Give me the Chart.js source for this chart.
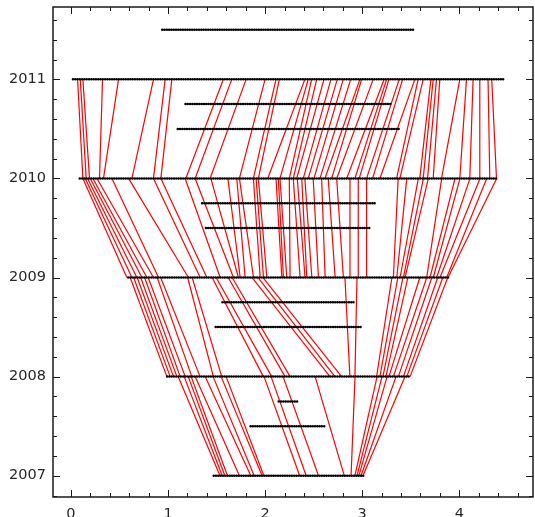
<!DOCTYPE html>
<html><head><meta charset="utf-8">
<script src="https://cdn.jsdelivr.net/npm/chart.js@4/dist/chart.umd.min.js"></script>
<style>html,body{margin:0;padding:0;background:#fff;overflow:hidden}#wrap{width:535px;height:517px}</style>
</head><body><div id="wrap"><canvas id="c" width="535" height="517"></canvas></div>
<script>
// ---- tick labels ----
const xTickLabels = [0, 1, 2, 3, 4];
const yTickLabels = [2007, 2008, 2009, 2010, 2011];

// ---- dotted rows (y level, first x, last x) ----
const rowYears  = [2011.5, 2011, 2010.75, 2010.5, 2010, 2009.75, 2009.5, 2009, 2008.75, 2008.5, 2008, 2007.75, 2007.5, 2007];
const rowStarts = [0.94, 0.02, 1.18, 1.10, 0.09, 1.35, 1.39, 0.59, 1.56, 1.49, 0.99, 2.14, 1.85, 1.47];
const rowEnds   = [3.54, 4.46, 3.30, 3.38, 4.40, 3.14, 3.09, 3.89, 2.92, 2.99, 3.49, 2.35, 2.63, 3.02];

// ---- links 2011 -> 2010 ----
const links2011From = [0.068,0.096,0.123,0.325,0.490,0.850,0.970,1.039,1.570,1.656,1.804,1.999,2.112,2.146,2.409,2.444,2.479,2.531,2.606,2.678,2.743,2.805,2.881,2.976,2.994,3.113,3.226,3.251,3.275,3.381,3.416,3.542,3.576,3.628,3.707,3.731,3.765,3.799,4.005,4.074,4.142,4.211,4.296,4.334];
const links2011To   = [0.123,0.157,0.191,0.294,0.335,0.628,0.850,0.926,1.183,1.279,1.433,1.735,1.879,1.930,2.027,2.153,2.249,2.290,2.325,2.393,2.444,2.503,2.565,2.616,2.685,2.737,2.840,2.925,2.969,3.045,3.107,3.182,3.354,3.388,3.593,3.628,3.673,3.731,3.817,4.005,4.108,4.211,4.314,4.383];
// ---- links 2010 -> 2009 ----
const links2010From = [0.123,0.147,0.171,0.199,0.226,0.268,0.422,0.593,0.850,0.926,1.176,1.279,1.441,1.616,1.708,1.735,1.879,1.907,1.930,2.112,2.136,2.153,2.249,2.290,2.331,2.377,2.409,2.495,2.582,2.650,2.737,2.874,2.959,3.045,3.370,3.459,3.578,3.630,3.681,3.819,3.956,4.007,4.110,4.213,4.282,4.385];
const links2010To   = [0.576,0.628,0.679,0.731,0.782,0.850,0.902,1.210,1.331,1.400,1.537,1.674,1.725,1.743,1.794,1.880,1.949,1.983,2.018,2.172,2.188,2.223,2.257,2.360,2.411,2.429,2.481,2.549,2.618,2.721,2.806,2.874,2.959,3.045,3.321,3.356,3.390,3.424,3.441,3.664,3.698,3.732,3.767,3.801,3.870,3.884];
// ---- links 2009 -> 2008 ----
const links2009From = [0.610,0.646,0.682,0.718,0.759,0.795,0.888,0.924,1.202,1.248,1.454,1.495,1.619,1.660,1.866,1.927,1.978,2.822,2.946,3.306,3.367,3.419,3.470,3.593,3.665,3.717,3.778,3.830,3.881];
const links2009To   = [0.988,1.022,1.056,1.091,1.125,1.177,1.245,1.330,1.467,1.553,1.982,2.068,2.205,2.257,2.668,2.719,2.788,2.873,2.925,3.148,3.182,3.213,3.244,3.275,3.321,3.372,3.424,3.459,3.493];
// ---- links 2008 -> 2007 ----
const links2008From = [1.104,1.166,1.208,1.238,1.279,1.382,1.464,1.547,1.598,1.989,2.061,2.185,2.515,2.926,3.153,3.204,3.256,3.348,3.441];
const links2008To   = [1.535,1.558,1.585,1.612,1.735,1.852,1.887,1.969,1.987,2.356,2.423,2.550,2.815,2.885,2.925,2.947,2.966,2.988,3.008];

const X_MIN = -0.185, X_MAX = 4.759, Y_MIN = 2006.785, Y_MAX = 2011.73;
const MINOR = 0.2;

const datasets = [];
rowYears.forEach((yv, i) => {
  datasets.push({
    data: [{x: rowStarts[i], y: yv}, {x: rowEnds[i], y: yv}],
    showLine: true, borderColor: '#000', borderWidth: 2.5,
    borderDash: [0.001, 2.3], borderCapStyle: 'round',
    pointRadius: 0, order: 0
  });
});
const bands = [
  [2011, 2010, links2011From, links2011To],
  [2010, 2009, links2010From, links2010To],
  [2009, 2008, links2009From, links2009To],
  [2008, 2007, links2008From, links2008To]
];
bands.forEach(([yTop, yBot, from, to]) => {
  from.forEach((xf, i) => {
    datasets.push({
      data: [{x: xf, y: yTop}, {x: to[i], y: yBot}],
      showLine: true, borderColor: '#ff0000', borderWidth: 1.2,
      pointRadius: 0, order: 1
    });
  });
});

const frameTicks = {
  id: 'frameTicks',
  afterDatasetsDraw(chart) {
    const {ctx, chartArea: a} = chart;
    const xs = chart.scales.x, ys = chart.scales.y;
    ctx.save();
    ctx.strokeStyle = '#1a1a1a';
    ctx.lineWidth = 1;
    const seg = (x1, y1, x2, y2) => { ctx.beginPath(); ctx.moveTo(x1, y1); ctx.lineTo(x2, y2); ctx.stroke(); };
    for (let k = Math.ceil(X_MIN / MINOR); k * MINOR <= X_MAX; k++) {
      const v = +(k * MINOR).toFixed(6);
      const len = xTickLabels.includes(v) ? 7 : 4;
      const px = Math.round(xs.getPixelForValue(v)) + 0.5;
      seg(px, a.bottom, px, a.bottom - len);
      seg(px, a.top, px, a.top + len);
    }
    for (let k = Math.ceil(Y_MIN / MINOR); k * MINOR <= Y_MAX; k++) {
      const v = +(k * MINOR).toFixed(6);
      const len = yTickLabels.includes(v) ? 7 : 4;
      const py = Math.round(ys.getPixelForValue(v)) + 0.5;
      seg(a.left, py, a.left + len, py);
      seg(a.right, py, a.right - len, py);
    }
    ctx.lineWidth = 1.5;
    ctx.strokeRect(a.left, a.top, a.right - a.left, a.bottom - a.top);
    ctx.restore();
  }
};

Chart.defaults.font.family = "'DejaVu Sans', sans-serif";
new Chart(document.getElementById('c'), {
  type: 'scatter',
  data: { datasets },
  options: {
    responsive: false, animation: false, devicePixelRatio: 1,
    layout: { padding: { top: 7, right: 2, left: 0, bottom: 0 } },
    plugins: { legend: { display: false }, tooltip: { enabled: false } },
    scales: {
      x: {
        type: 'linear', min: X_MIN, max: X_MAX,
        grid: { display: false, drawTicks: false }, border: { display: false },
        ticks: { color: '#262626', font: { size: 14.5 }, padding: 9, callback: v => String(v) },
        afterBuildTicks: s => { s.ticks = xTickLabels.map(v => ({ value: v })); },
        afterFit: s => { s.height = 20; s.paddingLeft = 0; s.paddingRight = 0; }
      },
      y: {
        type: 'linear', min: Y_MIN, max: Y_MAX,
        grid: { display: false, drawTicks: false }, border: { display: false },
        ticks: { color: '#262626', font: { size: 14.5 }, padding: 7, callback: v => String(v) },
        afterBuildTicks: s => { s.ticks = yTickLabels.map(v => ({ value: v })); },
        afterFit: s => { s.width = 53; s.paddingTop = 0; s.paddingBottom = 0; }
      }
    }
  },
  plugins: [frameTicks]
});
</script>
</body></html>
